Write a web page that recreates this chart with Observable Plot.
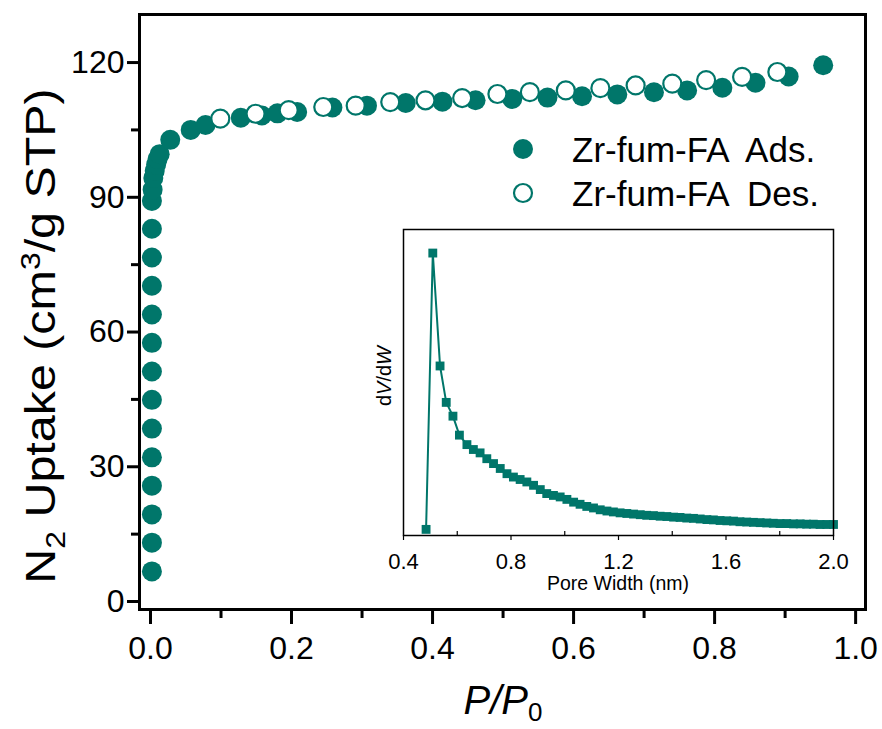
<!DOCTYPE html>
<html>
<head>
<meta charset="utf-8">
<script src="https://cdn.jsdelivr.net/npm/d3@7"></script>
<script src="https://cdn.jsdelivr.net/npm/@observablehq/plot@0.6"></script>
<style>
  html, body { margin: 0; padding: 0; background: #fff; }
  #wrap { position: relative; width: 882px; height: 729px; font-family: "Liberation Sans", Arial, sans-serif; }
  #inset { position: absolute; }
  svg text { font-family: "Liberation Sans", Arial, sans-serif; }
</style>
</head>
<body>
<div id="wrap"></div>
<script>
// ---- Main isotherm data (P/P0, N2 uptake cm3/g STP) ----
const adsP = [0.002,0.002,0.002,0.002,0.002,0.002,0.002,0.002,0.002,0.002,0.002,0.002,0.002,0.002,
  0.003,0.004,0.006,0.008,0.010,0.013,
  0.028,0.057,0.078,0.128,0.158,0.180,0.208,0.258,0.307,0.362,0.414,0.461,0.513,0.563,0.612,0.662,0.714,0.761,0.811,0.858,0.905,0.954];
const adsV = [6.7,13.1,19.4,25.8,32.1,38.5,44.9,51.2,57.6,63.9,70.3,76.6,83.0,89.2,
  91.7,94.3,95.9,97.3,98.5,99.6,
  102.8,105.0,106.1,107.7,108.2,108.7,109.0,110.0,110.4,111.0,111.3,111.6,111.9,112.2,112.5,112.9,113.4,113.8,114.4,115.5,116.9,119.4];
const desP = [0.099,0.149,0.196,0.245,0.291,0.340,0.390,0.442,0.492,0.538,0.589,0.638,0.688,0.740,0.788,0.839,0.889];
const desV = [107.5,108.6,109.4,110.1,110.4,111.2,111.6,112.1,113.0,113.4,113.8,114.3,114.9,115.3,116.1,116.8,117.9];

const xTicks = [0, 0.2, 0.4, 0.6, 0.8, 1.0];
const xMinor = [0.1, 0.3, 0.5, 0.7, 0.9];
const yTicks = [0, 30, 60, 90, 120];
const yMinor = [15, 45, 75, 105];
const seriesNames = ["Zr-fum-FA  Ads.", "Zr-fum-FA  Des."];

// ---- Inset pore size distribution ----
const poreW = [0.484,0.509,0.536,0.559,0.584,0.608,0.636,0.660,0.685,0.710,0.735,0.760,0.785,0.809,0.834,0.859,0.884,0.909,0.933,0.958,
  0.983,1.008,1.033,1.057,1.082,1.107,1.132,1.157,1.181,1.206,1.231,1.256,1.281,1.305,1.330,1.355,1.380,1.405,1.429,1.454,
  1.479,1.504,1.529,1.553,1.578,1.603,1.628,1.652,1.677,1.702,1.727,1.752,1.776,1.801,1.826,1.851,1.876,1.900,1.925,1.950,1.975,2.000];
const dVdW = [2.0,92.3,55.4,43.5,39.0,32.8,29.7,28.1,27.0,25.1,23.5,21.9,20.2,19.1,18.3,17.5,16.4,15.0,13.7,13.1,
  12.6,11.8,10.9,10.2,9.5,9.0,8.4,8.0,7.7,7.4,7.2,7.0,6.8,6.6,6.5,6.3,6.2,6.0,5.9,5.7,
  5.6,5.4,5.2,5.1,4.9,4.8,4.7,4.5,4.4,4.3,4.2,4.1,4.0,3.9,3.9,3.8,3.8,3.7,3.7,3.6,3.6,3.6];
const insetTicks = [0.4, 0.8, 1.2, 1.6, 2.0];
const insetMinor = [0.6, 1.0, 1.4, 1.8];

const teal = "#00766a";
const ads = adsP.map((p, i) => ({p, v: adsV[i]}));
const des = desP.map((p, i) => ({p, v: desV[i]}));
const psd = poreW.map((w, i) => ({w, d: dVdW[i]}));

const main = Plot.plot({
  width: 882, height: 729,
  marginLeft: 139, marginRight: 17, marginTop: 14, marginBottom: 120,
  style: {background: "#fff", fontFamily: "Liberation Sans, Arial, sans-serif", color: "#000"},
  x: {domain: [-0.0156, 1.014]},
  y: {domain: [-1.78, 130.7]},
  marks: [
    Plot.axisX({ticks: xMinor, tickSize: 9, strokeWidth: 3, text: null, label: null}),
    Plot.axisX({ticks: xTicks, tickSize: 15, strokeWidth: 3, tickFormat: d3.format(".1f"), fontSize: 32, tickPadding: 12, label: null}),
    Plot.axisY({ticks: yMinor, tickSize: 8, strokeWidth: 3, text: null, label: null}),
    Plot.axisY({ticks: yTicks, tickSize: 12, strokeWidth: 3, fontSize: 32, tickPadding: 3, label: null}),
    Plot.dot(ads, {x: "p", y: "v", r: 10, fill: teal, stroke: "none"}),
    Plot.dot(des, {x: "p", y: "v", r: 9, fill: "#fff", stroke: teal, strokeWidth: 2.2}),
    Plot.frame({stroke: "#000", strokeWidth: 3})
  ]
});

const wrap = document.getElementById("wrap");
wrap.appendChild(main);

const svg = d3.select(main);
// y-axis label with subscript/superscript
const yl = svg.append("text")
  .attr("transform", "translate(55,336) rotate(-90) scale(1.1,0.95)")
  .attr("text-anchor", "middle")
  .attr("font-size", 44)
  .attr("fill", "#000");
yl.append("tspan").text("N");
yl.append("tspan").attr("font-size", 29).attr("dy", 10).text("2");
yl.append("tspan").attr("dy", -10).text(" Uptake (cm");
yl.append("tspan").attr("font-size", 29).attr("dy", -16).text("3");
yl.append("tspan").attr("dy", 16).text("/g STP)");

// x-axis label P/P0
const xl = svg.append("text")
  .attr("x", 503).attr("y", 714)
  .attr("text-anchor", "middle")
  .attr("font-size", 40)
  .attr("fill", "#000");
xl.append("tspan").attr("font-style", "italic").text("P/P");
xl.append("tspan").attr("font-size", 26).attr("dy", 7).text("0");

// legend
const leg = svg.append("g");
leg.append("circle").attr("cx", 523).attr("cy", 149).attr("r", 10).attr("fill", teal);
leg.append("circle").attr("cx", 523).attr("cy", 193).attr("r", 9).attr("fill", "#fff").attr("stroke", teal).attr("stroke-width", 2.2);
leg.append("text").attr("x", 572).attr("y", 162).attr("text-anchor", "start").attr("font-size", 35).attr("fill", "#000").style("white-space", "pre").text(seriesNames[0]);
leg.append("text").attr("x", 572).attr("y", 206).attr("text-anchor", "start").attr("font-size", 35).attr("fill", "#000").style("white-space", "pre").text(seriesNames[1]);

// ---- Inset ----
const iML = 40, iMT = 5, iMR = 20, iMB = 60;
const inset = Plot.plot({
  width: 430 + iML + iMR, height: 306 + iMT + iMB,
  marginLeft: iML, marginRight: iMR, marginTop: iMT, marginBottom: iMB,
  style: {background: "transparent", fontFamily: "Liberation Sans, Arial, sans-serif", color: "#000", overflow: "visible"},
  x: {domain: [0.4, 2.0]},
  y: {domain: [0, 100], axis: null},
  marks: [
    Plot.frame({fill: "#fff"}),
    Plot.axisX({ticks: insetMinor, tickSize: -4, strokeWidth: 1.2, text: null, label: null}),
    Plot.axisX({ticks: insetTicks, tickSize: 5, strokeWidth: 1.2, tickFormat: d3.format(".1f"), fontSize: 22, tickPadding: 13, label: null}),
    Plot.line(psd, {x: "w", y: "d", stroke: teal, strokeWidth: 2}),
    Plot.dot(psd, {x: "w", y: "d", symbol: "square", r: 5, fill: teal, stroke: "none"}),
    Plot.frame({stroke: "#000", strokeWidth: 1.5})
  ]
});
inset.id = "inset";
inset.style.left = (403 - iML) + "px";
inset.style.top = (229 - iMT) + "px";
wrap.appendChild(inset);

const isv = d3.select(inset);
isv.append("text")
  .attr("x", iML + 215).attr("y", iMT + 306 + 55)
  .attr("text-anchor", "middle").attr("font-size", 19.5).attr("fill", "#000")
  .text("Pore Width (nm)");
const il = isv.append("text")
  .attr("transform", `translate(${iML - 12},${iMT + 147}) rotate(-90)`)
  .attr("text-anchor", "middle").attr("font-size", 20).attr("fill", "#000");
il.append("tspan").text("d");
il.append("tspan").attr("font-style", "italic").text("V");
il.append("tspan").text("/d");
il.append("tspan").attr("font-style", "italic").text("W");
</script>
</body>
</html>
